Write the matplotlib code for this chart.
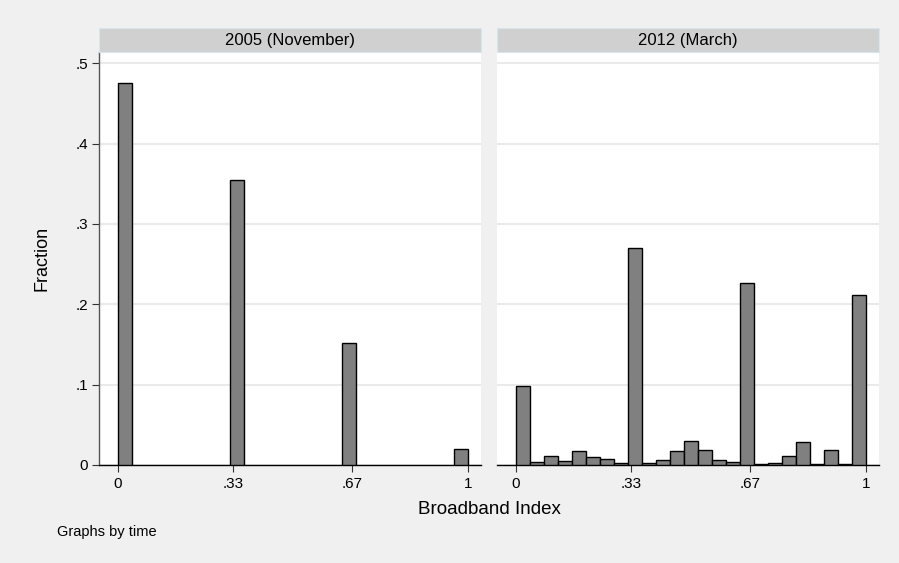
import numpy as np
import matplotlib.pyplot as plt
from matplotlib.patches import Rectangle

# histogram of the broadband index, bin width .04 starting at 0
bin_width = 0.04
bin_left = np.arange(25) * bin_width

panels = ['2005 (November)', '2012 (March)']

frac_2005 = [0.475, 0, 0, 0, 0, 0, 0, 0,
             0.355, 0, 0, 0, 0, 0, 0, 0,
             0.152, 0, 0, 0, 0, 0, 0, 0,
             0.0195]

frac_2012 = [0.098, 0.0033, 0.0112, 0.005, 0.017, 0.0095, 0.0079, 0.002,
             0.270, 0.0025, 0.0066, 0.0178, 0.0303, 0.0187, 0.0058, 0.0041,
             0.227, 0.0008, 0.0025, 0.0108, 0.029, 0.0012, 0.019, 0.0012,
             0.2116]

xticks = [0, 0.33, 0.67, 1]
xticklabels = ['0', '.33', '.67', '1']
yticks = [0, 0.1, 0.2, 0.3, 0.4, 0.5]
yticklabels = ['0', '.1', '.2', '.3', '.4', '.5']

W, H = 899, 563
fig = plt.figure(figsize=(W / 100, H / 100), dpi=100)
fig.patch.set_facecolor('#f0f0f0')

plt.rcParams['font.family'] = ['Liberation Sans', 'DejaVu Sans']

panel_left = [99, 497]
panel_w = 382
top_px, bot_px = 52.3, 465
strip_top = 28.3

for i, (title, vals) in enumerate(zip(panels, [frac_2005, frac_2012])):
    x0 = panel_left[i]
    ax = fig.add_axes([x0 / W, 1 - bot_px / H, panel_w / W, (bot_px - top_px) / H])
    ax.set_facecolor('white')
    vals = np.array(vals)
    m = vals > 0
    ax.bar(bin_left[m], vals[m], width=bin_width, align='edge',
           color='#808080', edgecolor='black', linewidth=1.0, zorder=3)
    ax.set_xlim(-0.053, 1.037)
    ax.set_ylim(0, 0.5136)
    ax.set_yticks(yticks)
    ax.yaxis.grid(True, color='#eaeaea', linewidth=1.5, zorder=0)
    ax.set_axisbelow(True)
    ax.set_xticks(xticks)
    ax.set_xticklabels(xticklabels, fontsize=11)
    ax.tick_params(axis='x', length=5, width=0.8, color='#333333', pad=4)
    for s in ['top', 'right']:
        ax.spines[s].set_visible(False)
    ax.spines['bottom'].set_color('black')
    ax.spines['bottom'].set_linewidth(1.0)
    if i == 0:
        ax.set_yticklabels(yticklabels, fontsize=11)
        ax.tick_params(axis='y', length=5, width=0.8, color='#333333', pad=3)
        ax.spines['left'].set_color('#555555')
        ax.spines['left'].set_linewidth(1.0)
    else:
        ax.spines['left'].set_visible(False)
        ax.tick_params(axis='y', length=0, labelleft=False)

    # strip header
    fig.patches.append(Rectangle((x0 / W, 1 - top_px / H), panel_w / W,
                                 (top_px - strip_top) / H, transform=fig.transFigure,
                                 facecolor='#d0d0d0', edgecolor='#d8e4ee',
                                 linewidth=0.8, zorder=5))
    fig.text((x0 + panel_w / 2) / W, 1 - (top_px + strip_top) / 2 / H, title,
             ha='center', va='center', fontsize=12, zorder=6)

fig.text(42 / W, 1 - 258 / H, 'Fraction', rotation=90, ha='center', va='center',
         fontsize=13)
fig.text(489 / W, 1 - 509 / H, 'Broadband Index', ha='center', va='center',
         fontsize=13.5)
fig.text(57 / W, 1 - 532 / H, 'Graphs by time', ha='left', va='center',
         fontsize=10.5)

fig.savefig('out.png', dpi=100, facecolor=fig.get_facecolor())
